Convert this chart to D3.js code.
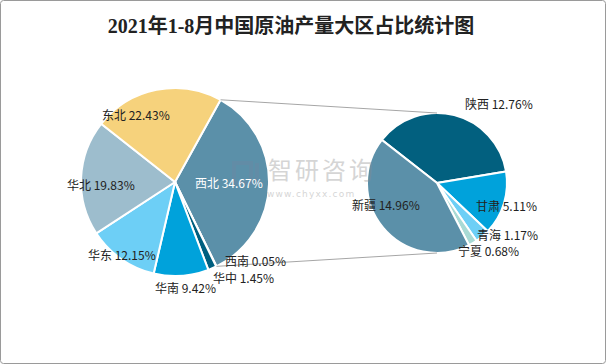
<!DOCTYPE html>
<html><head><meta charset="utf-8">
<script src="https://cdn.jsdelivr.net/npm/d3@7"></script>
<style>
html,body{margin:0;padding:0;background:#fff;}
svg{display:block;}
</style></head>
<body>
<script>
const title = "2021年1-8月中国原油产量大区占比统计图";
// main pie
const regions = ["西北","西南","华中","华南","华东","华北","东北"];
const regionValues = [34.67,0.05,1.45,9.42,12.15,19.83,22.43];
const regionColors = ["#5B90A9","#2B7A9A","#005F7F","#00A2DB","#6DCFF6","#9DBDCD","#F6D27C"];
// secondary pie (breakdown of 西北)
const provinces = ["陕西","甘肃","青海","宁夏","新疆"];
const provinceValues = [12.76,5.11,1.17,0.68,14.96];
const provinceColors = ["#02607F","#00A2DB","#6DCFF6","#A8DAD5","#5B90A9"];

const W = 606, H = 364;
const svg = d3.select("body").append("svg").attr("width", W).attr("height", H);
svg.append("rect").attr("x",0.5).attr("y",0.5).attr("width",W-1).attr("height",H-1)
  .attr("rx",3).attr("fill","#fff").attr("stroke","#9a9a9a").attr("stroke-width",1);

svg.append("text").attr("x",291).attr("y",33).attr("text-anchor","middle")
  .attr("font-family","'Liberation Serif','Noto Sans CJK SC',serif")
  .attr("font-size",20).attr("font-weight","bold").attr("fill","#222").text(title);

const labelFont = "'Noto Sans CJK SC','Microsoft YaHei',sans-serif";

// main pie
const c1 = {x:175, y:182, r:94};
const start1 = 29 * Math.PI/180;
const pie1 = d3.pie().sort(null).value(d=>d.v).startAngle(start1).endAngle(start1 + 2*Math.PI);
const data1 = pie1(regions.map((n,i)=>({n, v:regionValues[i], c:regionColors[i]})));
const arc1 = d3.arc().innerRadius(0).outerRadius(c1.r);
const g1 = svg.append("g").attr("transform",`translate(${c1.x},${c1.y})`);
g1.selectAll("path").data(data1).join("path").attr("d",arc1)
  .attr("fill",d=>d.data.c).attr("stroke","#fff").attr("stroke-width",2);

// secondary pie
const c2 = {x:437, y:183, r:70};
const start2 = -52 * Math.PI/180;
const pie2 = d3.pie().sort(null).value(d=>d.v).startAngle(start2).endAngle(start2 + 2*Math.PI);
const data2 = pie2(provinces.map((n,i)=>({n, v:provinceValues[i], c:provinceColors[i]})));
const arc2 = d3.arc().innerRadius(0).outerRadius(c2.r);
const g2 = svg.append("g").attr("transform",`translate(${c2.x},${c2.y})`);
g2.selectAll("path").data(data2).join("path").attr("d",arc2)
  .attr("fill",d=>d.data.c).attr("stroke","#fff").attr("stroke-width",2);

// connector lines
const pt = (c, a) => [c.x + c.r*Math.sin(a), c.y - c.r*Math.cos(a)];
const xb = data1[0];
const a0 = pt(c1, xb.startAngle), a1 = pt(c1, xb.endAngle);
svg.append("line").attr("x1",a0[0]).attr("y1",a0[1]).attr("x2",c2.x).attr("y2",c2.y-c2.r)
  .attr("stroke","#a6a6a6").attr("stroke-width",1);
svg.append("line").attr("x1",a1[0]).attr("y1",a1[1]).attr("x2",c2.x).attr("y2",c2.y+c2.r)
  .attr("stroke","#a6a6a6").attr("stroke-width",1);

// watermark (logo mark drawn as shapes, text kept as text)
const wm = svg.append("g").attr("opacity",0.35);
wm.append("rect").attr("x",234).attr("y",163).attr("width",17).attr("height",20)
  .attr("fill","none").attr("stroke","#6f85a3").attr("stroke-width",4);
wm.append("rect").attr("x",255).attr("y",163).attr("width",4).attr("height",20).attr("fill","#6f85a3");
wm.append("text").attr("x",268).attr("y",179).attr("font-family",labelFont)
  .attr("font-size",24).attr("letter-spacing",3).attr("fill","#8a8a8a").text("智研咨询");
wm.append("text").attr("x",267).attr("y",197).attr("font-family","'DejaVu Sans',sans-serif")
  .attr("font-size",9).attr("letter-spacing",1.2).attr("fill","#8a8a8a").text("www.chyxx.com");

// labels
const labels1 = {
  "西北":[195,188,"#fff"], "西南":[225,266,"#222"], "华中":[213,283,"#222"],
  "华南":[155,293,"#222"], "华东":[88,260,"#222"], "华北":[67,190,"#222"], "东北":[102,120,"#222"]
};
svg.append("g").selectAll("text").data(data1).join("text")
  .attr("x",d=>labels1[d.data.n][0]).attr("y",d=>labels1[d.data.n][1])
  .attr("fill",d=>labels1[d.data.n][2])
  .attr("font-family",labelFont).attr("font-size",12)
  .text(d=>`${d.data.n} ${d.data.v.toFixed(2)}%`);

const labels2 = {
  "陕西":[465,109], "甘肃":[476,211], "青海":[477,240], "宁夏":[458,256], "新疆":[352,210]
};
svg.append("g").selectAll("text").data(data2).join("text")
  .attr("x",d=>labels2[d.data.n][0]).attr("y",d=>labels2[d.data.n][1])
  .attr("fill","#222")
  .attr("font-family",labelFont).attr("font-size",12)
  .text(d=>`${d.data.n} ${d.data.v.toFixed(2)}%`);
</script>
</body></html>
